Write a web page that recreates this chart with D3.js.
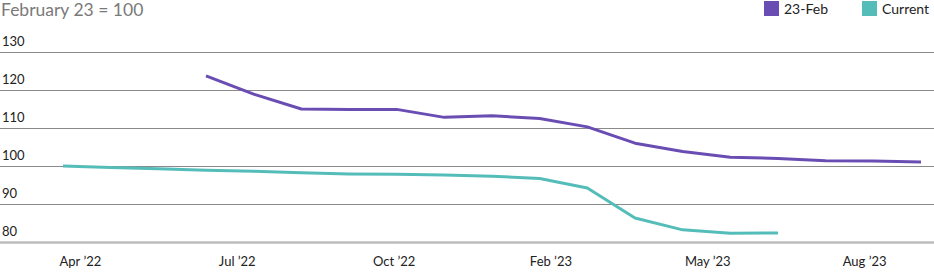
<!DOCTYPE html>
<html>
<head>
<meta charset="utf-8">
<script src="https://cdn.jsdelivr.net/npm/d3@7"></script>
<style>
    body { margin: 0; background: #fff; }
    text { font-family: Lato, "Open Sans", sans-serif; }
</style>
</head>
<body>
<div id="chart"></div>
<script>
// monthly points, Apr 22 .. Oct 23
let months = ['Apr 22','May 22','Jun 22','Jul 22','Aug 22','Sep 22','Oct 22','Nov 22','Dec 22','Jan 23',
    'Feb 23','Mar 23','Apr 23','May 23','Jun 23','Jul 23','Aug 23','Sep 23','Oct 23'];

let febValues = [null, null, null, 123.7, 118.9, 115.0, 114.9, 114.9, 112.8, 113.2,
    112.5, 110.3, 106.0, 103.8, 102.3, 102.0, 101.4, 101.3, 101.05];

let currentValues = [100, 99.6, 99.3, 98.9, 98.6, 98.2, 97.9, 97.8, 97.6, 97.3,
    96.7, 94.2, 86.3, 83.2, 82.3, 82.4, null, null, null];

let xTickLabels = ['Apr \u201922', 'Jul \u201922', 'Oct \u201922', 'Feb \u201923', 'May \u201923', 'Aug \u201923'];
let yTicks = [80, 90, 100, 110, 120, 130];

let seriesNames = ['23-Feb', 'Current'];
let seriesColors = ['#6a4db3', '#55bdb9'];

let width = 934, height = 272;

let svg = d3.select('#chart').append('svg')
    .attr('width', width)
    .attr('height', height);

let xScale = d3.scalePoint()
    .domain(months)
    .range([63, 921]);

let labelScale = d3.scaleBand()
    .domain(xTickLabels)
    .range([2, 943]);

let yScale = d3.scaleLinear()
    .domain([80, 130])
    .range([242, 52]);

// title
svg.append('text')
    .attr('x', 1)
    .attr('y', 16)
    .attr('fill', '#7a7a7a')
    .style('font-size', '17.5px')
    .text('February 23 = 100');

// gridlines + y labels
let grid = svg.append('g').attr('class', 'grid');
grid.selectAll('line')
    .data(yTicks)
    .enter().append('line')
    .attr('x1', 0)
    .attr('x2', width)
    .attr('y1', d => Math.round(yScale(d)) + 0.5)
    .attr('y2', d => Math.round(yScale(d)) + 0.5)
    .attr('stroke', d => d === 80 ? '#bdbdbd' : '#8a8a8a')
    .attr('stroke-width', d => d === 80 ? 2.5 : 1);

grid.selectAll('text')
    .data(yTicks)
    .enter().append('text')
    .attr('x', 2)
    .attr('y', d => yScale(d) - 6)
    .attr('fill', '#222')
    .style('font-size', '13px')
    .text(d => d);

// x axis labels
let xAxis = d3.axisBottom(labelScale).tickSize(0).tickPadding(0);
let xAxisGroup = svg.append('g')
    .attr('class', 'axis x-axis')
    .attr('transform', 'translate(0,257)')
    .call(xAxis);
xAxisGroup.select('.domain').remove();
xAxisGroup.selectAll('text')
    .attr('fill', '#222')
    .style('font-size', '13px')
    .style('font-family', 'Lato, sans-serif');

// lines
let line = d3.line()
    .defined(d => d.v !== null)
    .x(d => xScale(d.m))
    .y(d => yScale(d.v));

[febValues, currentValues].forEach(function(vals, i) {
    let data = months.map((m, j) => ({m: m, v: vals[j]}));
    svg.append('path')
        .datum(data)
        .attr('fill', 'none')
        .attr('stroke', seriesColors[i])
        .attr('stroke-width', 3)
        .attr('stroke-linejoin', 'round')
        .attr('d', line);
});

// legend
let legendX = [764, 862];
let legend = svg.selectAll('.legend')
    .data(seriesNames)
    .enter().append('g')
    .attr('class', 'legend')
    .attr('transform', (d, i) => `translate(${legendX[i]}, 1)`);

legend.append('rect')
    .attr('width', 15)
    .attr('height', 15)
    .attr('fill', (d, i) => seriesColors[i]);

legend.append('text')
    .attr('x', 20)
    .attr('y', 13)
    .attr('fill', '#222')
    .style('font-size', '14px')
    .text(d => d);
</script>
</body>
</html>
